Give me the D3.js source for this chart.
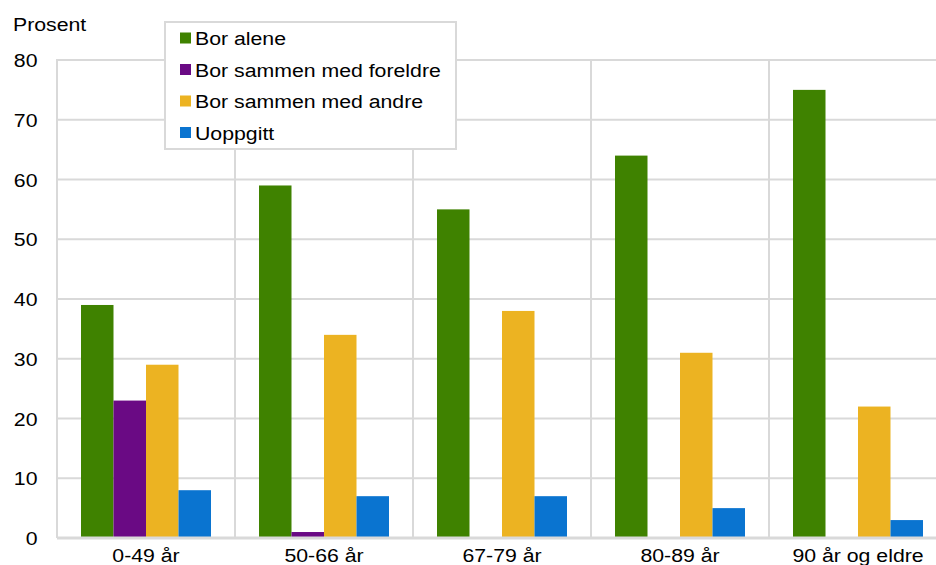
<!DOCTYPE html>
<html><head><meta charset="utf-8">
<script src="https://cdn.jsdelivr.net/npm/d3@7"></script>
<style>body{margin:0;background:#fff}svg{display:block;font-family:"Liberation Sans",Arial,sans-serif}</style>
</head><body>
<svg id="c" width="936" height="565"></svg>
<script>
const categories = ["0-49 år","50-66 år","67-79 år","80-89 år","90 år og eldre"];
const seriesNames = ["Bor alene","Bor sammen med foreldre","Bor sammen med andre","Uoppgitt"];
const colors = ["#3f8200","#6a0a84","#ecb322","#0a74d0"];
const borAlene = [39,59,55,64,75];
const borForeldre = [23,1,0,0,0];
const borAndre = [29,34,38,31,22];
const uoppgitt = [8,7,7,5,3];
const yTicks = [0,10,20,30,40,50,60,70,80];
const seriesValues = [borAlene,borForeldre,borAndre,uoppgitt];

(function(){
const svg = d3.select("#c");
const pLeft = 57, pRight = 947, pTop = 60, pBottom = 538;
const x = d3.scaleBand().domain(categories).range([pLeft,pRight]);
const y = d3.scaleLinear().domain([0,80]).range([pBottom,pTop]);
const inner = d3.scaleBand().domain(seriesNames).range([24, x.bandwidth()-24]);
const grid = "#d9d9d9";
const FS = 19, SX = 1.12;
const place = (sel, fx, fy) => sel.attr("transform", (d,i)=>`translate(${fx(d,i)},${fy(d,i)}) scale(${SX},1)`)
  .attr("font-size",FS).attr("fill","#000");

svg.append("g").selectAll("line").data(yTicks.filter(d=>d>0)).join("line")
  .attr("x1",pLeft).attr("x2",936).attr("y1",d=>y(d)).attr("y2",d=>y(d))
  .attr("stroke",grid).attr("stroke-width",2);
svg.append("g").selectAll("line").data(categories).join("line")
  .attr("x1",d=>x(d)).attr("x2",d=>x(d)).attr("y1",pTop-1).attr("y2",pBottom)
  .attr("stroke",grid).attr("stroke-width",2);

const g = svg.append("g");
categories.forEach((c,ci)=>{
  seriesNames.forEach((s,si)=>{
    const v = seriesValues[si][ci];
    if (v<=0) return;
    g.append("rect").attr("x",x(c)+inner(s)).attr("width",inner.bandwidth())
      .attr("y",y(v)).attr("height",y(0)-y(v)).attr("fill",colors[si]);
  });
});

svg.append("line").attr("x1",pLeft).attr("x2",936).attr("y1",pBottom).attr("y2",pBottom)
  .attr("stroke","#d9d9d9").attr("stroke-width",3);

place(svg.append("g").selectAll("text").data(yTicks).join("text")
  .attr("text-anchor","end").text(d=>d), ()=>37.5, d=>y(d)+7);
place(svg.append("g").selectAll("text").data(["Prosent"]).join("text").text(d=>d), ()=>13, ()=>31);

place(svg.append("g").selectAll("text").data(categories).join("text")
  .attr("text-anchor","middle").text(d=>d), d=>x(d)+x.bandwidth()/2, ()=>562);

const lg = svg.append("g");
lg.append("rect").attr("x",165).attr("y",22).attr("width",291).attr("height",127)
  .attr("fill","#fff").attr("stroke","#d9d9d9").attr("stroke-width",2);
lg.selectAll("rect.sw").data(seriesNames).join("rect").attr("class","sw")
  .attr("x",180).attr("y",(d,i)=>38+i*31.5-5.5).attr("width",11).attr("height",11)
  .attr("fill",(d,i)=>colors[i]);
place(lg.selectAll("text").data(seriesNames).join("text").text(d=>d), ()=>195, (d,i)=>38+i*31.5+7);
})();
</script>
</body></html>
